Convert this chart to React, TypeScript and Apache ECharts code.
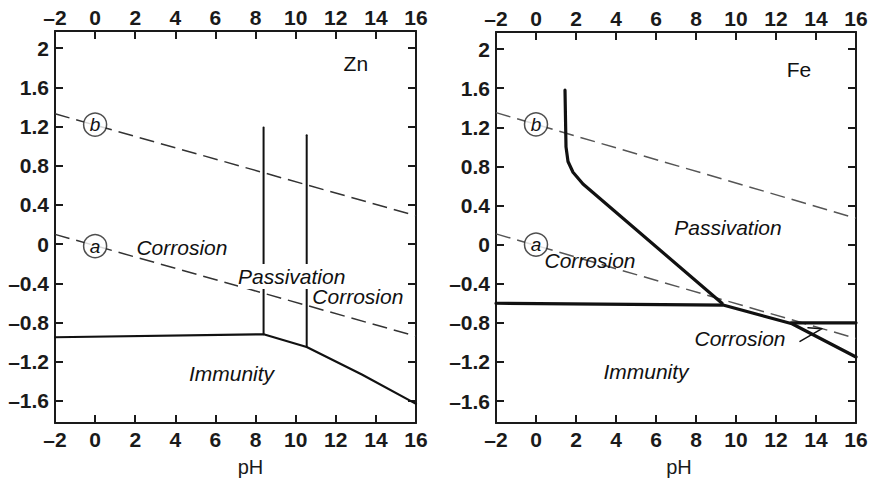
import React, { useEffect, useRef } from "react";
import * as echarts from "echarts";

// Potential (V) vs pH diagrams for zinc and iron
const X_MIN = -2;
const X_MAX = 16;
const Y_TICKS = [-1.6, -1.2, -0.8, -0.4, 0, 0.4, 0.8, 1.2, 1.6, 2];
const Y_MIN = -1.825;
const Y_MAX = 2.175;

// Zn panel
const znWaterB = [[-2, 1.33], [16, 0.29]];
const znWaterA = [[-2, 0.1], [16, -0.94]];
const znImmunity = [[-2, -0.95], [8.4, -0.92], [10.55, -1.05], [13.3, -1.33], [16, -1.63]];
const znPassiveLeft = [[8.4, -0.92], [8.4, 1.19]];
const znPassiveRight = [[10.55, -1.05], [10.55, 1.11]];
const znCircles = [
  { value: [0, 1.22], name: "b" },
  { value: [0, -0.02], name: "a" },
];
const znTexts = [
  { value: [13.0, 1.845], name: "Zn", italic: false, mask: false },
  { value: [4.33, -0.03], name: "Corrosion", italic: true, mask: false },
  { value: [9.8, -0.33], name: "Passivation", italic: true, mask: true },
  { value: [13.1, -0.53], name: "Corrosion", italic: true, mask: false },
  { value: [6.8, -1.32], name: "Immunity", italic: true, mask: false },
];

// Fe panel
const feWaterB = [[-2, 1.35], [16, 0.27]];
const feWaterA = [[-2, 0.11], [16, -0.96]];
const fePassivation = [[1.45, 1.58], [1.5, 1.0], [1.6, 0.85], [1.85, 0.74], [2.35, 0.62], [9.3, -0.6]];
const feImmunity = [[-2, -0.6], [9.4, -0.62], [12.8, -0.81], [16, -1.15]];
const feOxide = [[12.75, -0.8], [16, -0.8]];
const feLeader = [[13.2, -0.99], [14.3, -0.86], [13.6, -0.85]];
const feCircles = [
  { value: [0, 1.23], name: "b" },
  { value: [0, 0.0], name: "a" },
];
const feTexts = [
  { value: [13.15, 1.79], name: "Fe", italic: false, mask: false },
  { value: [9.6, 0.17], name: "Passivation", italic: true, mask: false },
  { value: [2.7, -0.16], name: "Corrosion", italic: true, mask: false },
  { value: [10.2, -0.96], name: "Corrosion", italic: true, mask: false },
  { value: [5.5, -1.3], name: "Immunity", italic: true, mask: false },
];

const FONT = "'Liberation Sans', Arial, Helvetica, sans-serif";
const INK = "#1a1a1a";

const fmt = (v: number) => (v < 0 ? "\u2013" + String(Math.abs(v)) : String(v));

function xAxis(gridIndex: number, position: "top" | "bottom", shiftName: number) {
  return {
    type: "value",
    gridIndex,
    position,
    min: X_MIN,
    max: X_MAX,
    interval: 2,
    splitLine: { show: false },
    axisLine: { show: true, onZero: false, lineStyle: { color: INK, width: 2 } },
    axisTick: { show: true, inside: true, length: 8, lineStyle: { color: INK, width: 2 } },
    axisLabel: {
      show: true,
      fontSize: 21,
      fontWeight: "bold",
      fontFamily: FONT,
      color: INK,
      margin: position === "top" ? 3 : 6,
      formatter: (v: number) => fmt(v),
    },
    name: position === "bottom" ? "pH" : "",
    nameLocation: "middle",
    nameGap: 34,
    nameTextStyle: {
      fontSize: 20,
      fontFamily: FONT,
      color: INK,
      padding: [0, 0, 0, shiftName],
    },
  };
}

function yAxis(gridIndex: number, position: "left" | "right") {
  return {
    type: "value",
    gridIndex,
    position,
    min: Y_MIN,
    max: Y_MAX,
    splitLine: { show: false },
    axisLine: { show: true, onZero: false, lineStyle: { color: INK, width: 2 } },
    axisTick: {
      show: true,
      inside: true,
      length: 8,
      customValues: Y_TICKS,
      lineStyle: { color: INK, width: 2 },
    },
    axisLabel: {
      show: position === "left",
      customValues: Y_TICKS,
      fontSize: 21,
      fontWeight: "bold",
      fontFamily: FONT,
      color: INK,
      margin: 6,
      formatter: (v: number) => fmt(v),
    },
  };
}

function solid(data: number[][], xi: number, yi: number, width: number) {
  return {
    type: "line",
    xAxisIndex: xi,
    yAxisIndex: yi,
    data,
    symbol: "none",
    silent: true,
    z: 3,
    lineStyle: { color: "#111", width, cap: "round", join: "round" },
  };
}

function dashed(data: number[][], xi: number, yi: number, color: string) {
  return {
    type: "line",
    xAxisIndex: xi,
    yAxisIndex: yi,
    data,
    symbol: "none",
    silent: true,
    z: 2,
    lineStyle: { color, width: 1.5, type: [15, 7] },
  };
}

function circles(data: any[], xi: number, yi: number) {
  return {
    type: "scatter",
    xAxisIndex: xi,
    yAxisIndex: yi,
    data,
    symbol: "circle",
    symbolSize: 23,
    z: 5,
    silent: true,
    itemStyle: { color: "#fff", borderColor: "#222", borderWidth: 1.5 },
  };
}

export default function App() {
  const ref = useRef<HTMLDivElement>(null);

  useEffect(() => {
    if (!ref.current) return;
    const chart = echarts.init(ref.current, undefined, { renderer: "svg" });
    chart.setOption({
      animation: false,
      backgroundColor: "#fff",
      grid: [
        { left: 55, top: 31, width: 361, height: 392 },
        { left: 496, top: 32, width: 360, height: 391 },
      ],
      xAxis: [
        xAxis(0, "bottom", 30),
        xAxis(0, "top", 0),
        xAxis(1, "bottom", 6),
        xAxis(1, "top", 0),
      ],
      yAxis: [yAxis(0, "left"), yAxis(0, "right"), yAxis(1, "left"), yAxis(1, "right")],
      series: [
        // Zn
        dashed(znWaterB, 0, 0, "#333"),
        dashed(znWaterA, 0, 0, "#333"),
        solid(znImmunity, 0, 0, 2.2),
        solid(znPassiveLeft, 0, 0, 2),
        solid(znPassiveRight, 0, 0, 2),
        circles(znCircles, 0, 0),
        // Fe
        dashed(feWaterB, 2, 2, "#555"),
        dashed(feWaterA, 2, 2, "#555"),
        solid(fePassivation, 2, 2, 3.2),
        solid(feImmunity, 2, 2, 3.2),
        solid(feOxide, 2, 2, 3.2),
        solid(feLeader, 2, 2, 1.5),
        circles(feCircles, 2, 2),
      ],
    });

    // Region names and circle letters, placed through each grid's coordinate system
    const elements: any[] = [];
    const place = (gridIndex: number, list: any[], size: number, circle: boolean) => {
      list.forEach((d) => {
        const [px, py] = chart.convertToPixel({ gridIndex }, d.value) as number[];
        elements.push({
          type: "text",
          x: px,
          y: py,
          z: 100,
          silent: true,
          style: {
            text: d.name,
            fill: "#111",
            fontSize: size,
            fontStyle: circle || d.italic ? "italic" : "normal",
            fontFamily: FONT,
            align: "center",
            verticalAlign: "middle",
            backgroundColor: d.mask ? "#fff" : undefined,
            padding: d.mask ? [2, 0, 2, 0] : undefined,
          },
        });
      });
    };
    place(0, znTexts, 21, false);
    place(1, feTexts, 21, false);
    place(0, znCircles, 19, true);
    place(1, feCircles, 19, true);
    chart.setOption({ graphic: { elements } });

    return () => chart.dispose();
  }, []);

  return (
    <div
      ref={ref}
      style={{ position: "fixed", left: 0, top: 0, width: 873, height: 486, background: "#fff" }}
    />
  );
}
